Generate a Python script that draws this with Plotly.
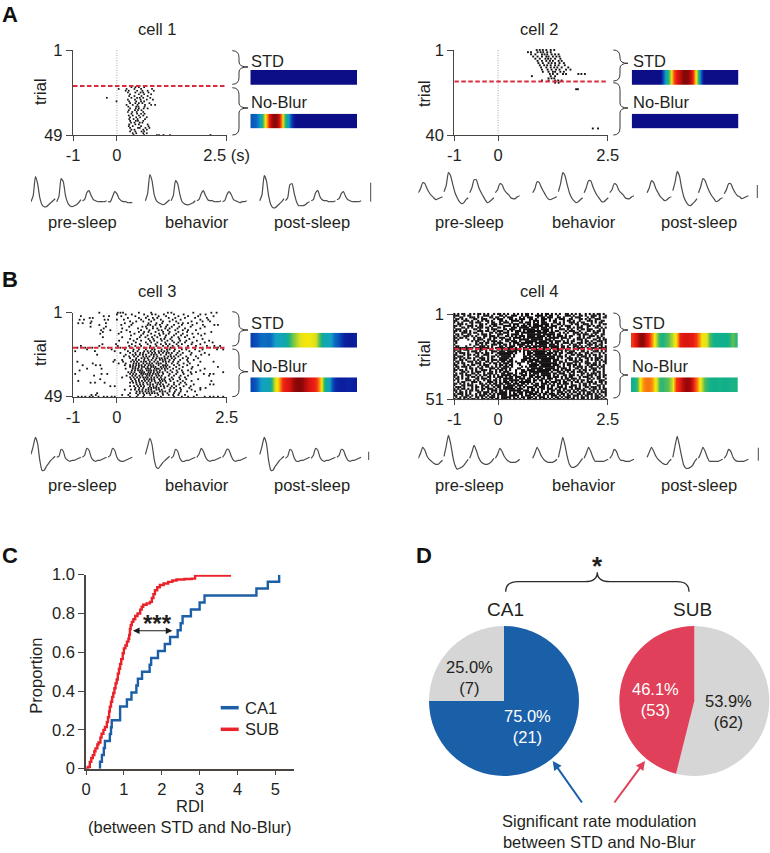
"""Rasters, rate maps, waveforms, RDI curves and pies for STD vs No-Blur."""

import plotly.graph_objects as go

FIG_W, FIG_H = 770, 853
FONT = "Liberation Sans"
TEXT_SIZE = 16.5
INK = "#231f20"
AXIS = "#4a4541"
BLUE = "#1a60a8"
RED = "#e0405a"
GRAY = "#d6d6d6"

# ---- rasters: spike times (s) per trial ------------------------------------
cell1_spikes = {
    22: [0.33, 0.42, 0.5, 0.62],
    23: [0.04, 0.22, 0.4, 0.55, 0.8],
    24: [0.2, 0.27, 0.46, 0.58, 0.7, 0.84],
    25: [0.25, 0.42, 0.54, 0.6, 0.72],
    26: [0.3, 0.5, 0.62, 0.78],
    27: [0.28, 0.4, 0.56, 0.7],
    28: [-0.23, 0.33, 0.46, 0.52, 0.6, 0.76],
    29: [0.25, 0.41, 0.54, 0.68, 0.82],
    30: [-0.01, 0.28, 0.44, 0.55, 0.62],
    31: [0.3, 0.42, 0.5, 0.58, 0.74],
    32: [0.22, 0.36, 0.47, 0.64, 0.78, 0.87],
    33: [0.26, 0.44, 0.49, 0.63],
    34: [0.3, 0.43, 0.5, 0.61, 0.7],
    35: [0.27, 0.41, 0.48, 0.56],
    36: [0.25, 0.35, 0.45, 0.6],
    37: [0.33, 0.46, 0.55, 0.63],
    38: [0.27, 0.36, 0.5, 0.6],
    39: [0.3, 0.44, 0.53, 0.68],
    40: [0.28, 0.38, 0.47, 0.64],
    41: [0.3, 0.43, 0.48, 0.6],
    42: [0.32, 0.4, 0.52, 0.58],
    43: [0.28, 0.42, 0.5, 0.7],
    44: [0.27, 0.36, 0.55, 0.72],
    45: [0.3, 0.48, 0.52, 0.65, 0.74],
    46: [0.33, 0.4, 0.6, 0.68],
    47: [0.3, 0.42, 0.56, 0.62],
    48: [0.36, 0.44, 0.6, 0.68],
    49: [0.38, 0.62, 0.91, 0.96, 1.06, 1.21, 2.13],
}
cell2_spikes = {
    1: [0.88, 0.95, 1.02, 1.1, 1.2, 1.28],
    2: [0.68, 0.75, 0.9, 0.97, 1.03, 1.12, 1.2],
    3: [0.75, 0.85, 1.0, 1.06, 1.12, 1.22, 1.3, 1.38],
    4: [0.8, 0.9, 1.0, 1.1, 1.15, 1.25, 1.33, 1.4],
    5: [0.85, 0.95, 1.08, 1.14, 1.2, 1.3, 1.42],
    6: [0.9, 1.0, 1.1, 1.18, 1.25, 1.38, 1.45],
    7: [0.92, 1.02, 1.15, 1.22, 1.3, 1.4, 1.5],
    8: [0.95, 1.05, 1.12, 1.2, 1.3, 1.38, 1.52],
    9: [0.98, 1.1, 1.2, 1.28, 1.35, 1.45, 1.6],
    10: [1.0, 1.13, 1.22, 1.32, 1.4, 1.55, 1.65],
    11: [1.02, 1.15, 1.25, 1.3, 1.42, 1.5],
    12: [1.18, 1.25, 1.35, 1.48, 1.55, 1.83, 1.9, 1.98],
    13: [0.77, 1.2, 1.3],
    14: [1.15, 1.22, 1.28],
    15: [1.0, 1.15, 1.3, 1.37, 1.45],
    16: [1.3, 1.38],
    19: [1.78, 1.82],
    37: [2.16, 2.28],
}
cell3_spikes = {
    1: [-0.4, 0.02, 0.08, 0.14, 0.5, 0.78, 1.16, 1.24, 1.74, 2.15, 2.27],
    2: [0.0, 0.2, 0.34, 0.62, 0.8, 0.88, 1.07, 1.3, 1.52, 1.9, 2.02],
    3: [-0.82, -0.3, -0.18, 0.1, 0.42, 0.7, 0.95, 1.12, 1.4, 1.62, 1.85, 2.2],
    4: [-0.62, -0.55, 0.25, 0.5, 0.66, 0.82, 0.92, 1.18, 1.33, 1.55, 1.78, 2.05],
    5: [-0.85, -0.75, -0.28, -0.2, 0.0, 0.16, 0.55, 0.73, 0.85, 1.0, 1.27, 1.45, 1.9, 2.08],
    6: [-0.58, 0.3, 0.44, 0.6, 0.78, 1.05, 1.2, 1.35, 1.7, 1.95, 2.12],
    7: [-0.88, -0.78, -0.6, -0.25, 0.18, 0.36, 0.72, 0.9, 1.03, 1.4, 1.5, 1.62, 1.82],
    8: [-0.4, 0.1, 0.33, 0.7, 0.76, 0.88, 0.98, 1.15, 1.3, 1.48, 1.72, 1.96, 2.22, 2.3],
    9: [-0.6, -0.25, 0.28, 0.58, 0.66, 0.82, 1.0, 1.12, 1.25, 1.42, 1.68, 2.0],
    10: [-0.3, 0.12, 0.48, 0.68, 0.82, 0.92, 1.1, 1.2, 1.38, 1.55, 1.9],
    11: [-0.36, -0.15, 0.22, 0.55, 0.74, 0.95, 1.02, 1.16, 1.33, 1.5, 1.62, 1.8],
    12: [-0.32, 0.1, 0.3, 0.5, 0.62, 0.72, 0.88, 1.05, 1.2, 1.4, 1.6, 2.15],
    13: [-0.38, 0.04, 0.4, 0.6, 0.78, 0.96, 1.06, 1.18, 1.35, 1.5, 1.72, 1.85, 2.0],
    14: [0.32, 0.55, 0.7, 0.86, 0.98, 1.12, 1.3, 1.46, 1.6, 1.92],
    15: [-0.32, 0.12, 0.52, 0.65, 0.8, 0.92, 1.1, 1.25, 1.4, 1.55, 1.75],
    16: [0.3, 0.46, 0.72, 0.83, 1.0, 1.08, 1.22, 1.42, 1.65, 1.95],
    17: [0.05, 0.38, 0.55, 0.75, 0.85, 1.02, 1.15, 1.26, 1.44, 1.58, 1.82, 2.1],
    18: [0.25, 0.43, 0.66, 0.78, 0.92, 1.1, 1.3, 1.4, 1.55, 1.72, 2.0, 2.18],
    19: [-0.33, -0.02, 0.34, 0.52, 0.7, 0.88, 1.0, 1.12, 1.2, 1.36, 1.48, 1.7, 1.9],
    20: [-0.82, -0.4, 0.02, 0.28, 0.42, 0.55, 0.76, 0.9, 1.05, 1.16, 1.27, 1.4, 1.62, 1.8, 2.05, 2.22, 2.35],
    21: [-0.9, -0.72, -0.56, -0.2, 0.08, 0.2, 0.32, 0.48, 0.62, 0.75, 0.84, 0.95, 1.1, 1.22, 1.3, 1.45, 1.6,
         1.78, 1.95, 2.12, 2.3],
    22: [-0.68, -0.12, 0.18, 0.38, 0.5, 0.66, 0.8, 0.86, 1.02, 1.14, 1.2, 1.32, 1.48, 1.58, 1.78, 1.95, 2.28, 2.42],
    23: [-0.95, -0.5, -0.05, 0.25, 0.47, 0.62, 0.7, 0.85, 0.95, 1.08, 1.15, 1.3, 1.42, 1.65, 1.88],
    24: [0.08, 0.3, 0.42, 0.6, 0.72, 0.8, 0.96, 1.05, 1.18, 1.25, 1.38, 1.5, 1.7, 2.0],
    25: [-0.45, 0.2, 0.36, 0.52, 0.66, 0.78, 0.9, 1.0, 1.12, 1.22, 1.35, 1.45, 1.68, 1.92, 2.1],
    26: [0.16, 0.28, 0.48, 0.6, 0.74, 0.84, 0.92, 1.08, 1.17, 1.3, 1.4, 1.58, 1.8],
    27: [0.3, 0.44, 0.56, 0.7, 0.82, 0.9, 1.02, 1.15, 1.25, 1.33, 1.5, 1.62, 1.85],
    28: [-0.05, 0.12, 0.36, 0.5, 0.62, 0.72, 0.88, 0.98, 1.1, 1.2, 1.3, 1.44, 1.6, 1.75],
    29: [-0.9, -0.08, 0.14, 0.32, 0.46, 0.55, 0.66, 0.75, 0.85, 0.93, 1.05, 1.18, 1.28, 1.4, 1.62, 1.9, 2.2],
    30: [-0.55, 0.04, 0.2, 0.38, 0.5, 0.6, 0.68, 0.8, 0.9, 1.0, 1.12, 1.25, 1.38, 1.52, 1.66],
    31: [-0.78, -0.48, -0.38, 0.18, 0.3, 0.44, 0.56, 0.64, 0.72, 0.83, 0.95, 1.05, 1.15, 1.3, 1.42, 1.6, 1.85],
    32: [0.3, 0.42, 0.5, 0.62, 0.7, 0.78, 0.88, 1.0, 1.12, 1.2, 1.35, 1.5, 1.72, 2.3],
    33: [-0.68, -0.35, 0.2, 0.36, 0.48, 0.56, 0.66, 0.76, 0.86, 0.95, 1.02, 1.15, 1.28, 1.42, 1.7, 2.0],
    34: [-0.85, 0.34, 0.48, 0.58, 0.68, 0.78, 0.9, 0.98, 1.1, 1.22, 1.36, 1.48, 1.62, 1.9],
    35: [0.26, 0.4, 0.52, 0.62, 0.72, 0.84, 0.92, 1.04, 1.15, 1.26, 1.38, 1.5, 1.68, 1.8, 2.42],
    36: [-0.95, -0.35, -0.22, 0.3, 0.44, 0.55, 0.65, 0.75, 0.82, 0.94, 1.05, 1.2, 1.35, 1.52, 1.7, 1.98, 2.12, 2.2],
    37: [-0.52, 0.22, 0.42, 0.58, 0.68, 0.8, 0.9, 1.02, 1.18, 1.3, 1.45, 1.62, 2.1],
    38: [0.12, 0.3, 0.46, 0.6, 0.7, 0.78, 0.92, 1.0, 1.1, 1.25, 1.42, 1.55],
    39: [-0.38, 0.32, 0.5, 0.62, 0.74, 0.85, 0.96, 1.08, 1.2, 1.28, 1.44, 1.58, 1.85],
    40: [-0.88, 0.35, 0.5, 0.64, 0.72, 0.86, 0.98, 1.1, 1.22, 1.38, 1.5, 1.7, 2.15],
    41: [-0.6, -0.5, -0.28, 0.3, 0.44, 0.6, 0.76, 0.88, 1.0, 1.12, 1.3, 1.45, 1.55],
    42: [0.45, 0.6, 0.7, 0.82, 0.92, 1.05, 1.18, 1.3, 1.42, 1.58, 1.75, 2.12, 2.2],
    43: [-0.15, -0.05, 0.3, 0.48, 0.62, 0.75, 0.9, 1.0, 1.15, 1.25, 1.35, 1.52, 1.68],
    44: [0.42, 0.6, 0.72, 0.84, 0.95, 1.08, 1.22, 1.3, 1.44, 1.65, 1.9, 2.02],
    45: [0.18, 0.32, 0.5, 0.66, 0.78, 0.9, 1.02, 1.2, 1.35, 1.46, 1.7, 1.9],
    46: [0.45, 0.58, 0.72, 0.85, 0.98, 1.1, 1.2, 1.32, 1.45, 1.6, 1.78],
    47: [-0.45, 0.3, 0.52, 0.68, 0.8, 0.92, 1.04, 1.15, 1.3, 1.42],
    48: [-0.58, -0.48, 0.12, 0.26, 0.48, 0.62, 0.76, 0.94, 1.05, 1.18, 1.28, 1.4, 1.55, 1.82],
    49: [-0.88, -0.8, -0.72, -0.62, -0.55, -0.42, -0.3, -0.22, -0.12, -0.05, 0.3, 0.45, 0.6, 0.88, 1.0, 1.3, 1.48,
         1.62, 1.75, 2.0, 2.12, 2.2, 2.3, 2.42],
}
# the dense core below the split line
cell3_core = {
    23: [0.37, 0.77, 1.01], 24: [0.53, 0.87, 1.13], 25: [0.43, 0.59, 0.84], 26: [0.39, 0.67, 1.23],
    27: [0.63, 0.97, 1.09], 28: [0.43, 0.79, 1.04], 29: [0.39, 0.61, 1.11], 30: [0.44, 0.74, 0.95],
    31: [0.37, 0.5, 0.77, 1.1], 32: [0.36, 0.57, 0.83, 1.06], 33: [0.42, 0.71, 0.91, 1.09],
    34: [0.41, 0.53, 0.73, 0.84], 35: [0.33, 0.57, 0.77, 0.97], 36: [0.37, 0.6, 0.7, 0.88],
    37: [0.35, 0.51, 0.74, 0.96], 38: [0.38, 0.53, 0.65, 0.85], 39: [0.41, 0.68, 0.79, 1.02],
    40: [0.43, 0.57, 0.79, 1.04], 41: [0.37, 0.52, 0.68, 0.94], 42: [0.53, 0.76, 0.98],
    43: [0.39, 0.55, 0.83, 1.07], 44: [0.51, 0.78, 0.89], 45: [0.41, 0.58, 0.72, 0.96],
    46: [0.52, 0.65, 0.79, 1.04], 47: [0.44, 0.6, 0.74, 0.86],
}
# cell 4 is too dense to list: one character per 1/22 s from -1 s, '#' marks a spike
cell4_rows = [
    "#.#.##..#.#.##.#.#..#.##.#.#..#.#.#.##.#..#.#.##.#.#.#..##.#.#.#..#.#.#.##.#",
    "###..#.##...#..###.#...##.#..###..#.##...####.#.##..#...###.#..##.#..###.#..#",
    "#..##...###.#.#...##.##..#.###...#.#.###..#.##.###..##.#...#.###...#.##..#.##",
    ".##.#.#...##..###...#.###...##.#.###..##.#..###.#..#.###..##...##.#.#..###...#",
    "##...###.#..#.#.##.#...##.#..####.#...#.###.##..#.##...#.##.#..#...###.#..##.#",
    "#.#.#...##.###...#.##..#.###.#...##.###.#.#.###...##.#.#..###.#.##...#.#.##..#",
    "..###.#..#...##.#..###.##...#.###..#.##.###.####.#..##.#...#.##..###.#...#.###",
    "##.#...###.#.##...#.##...####.#.#.###.#.#####.##.###..#.###...#.#..##.#.##...#",
    "#...##.#.#..###.##.#..##.#...###.#####.####.###.##.#.#...##.#.###..#...##.#.##",
    ".###..#...##.#...#.###...##.###..#.######.#.####.#...###.#.#..#.##.###...#.#..",
    "##.#.##.#...###.##..#.###..#.#.###.#.#######.###.#.##...#.###..#...##.#.##.#.#",
    "#...###.#.##..#...##.#.#.###...##.#######.#####.###..#.#.#..###.#.#...###..#.#",
    ".##.#..##...#.###.#...###..#.####.#..#######.######.##..#...#.##.###.#.#..##.#",
    "#.#..###.#.#...##.###.#...##.#.#.###.####.####.##.#.###.#.##...#.#..###.#.#..#",
    "##.##.#...#.##.#..#.##.###..#.####.#.########.#.#####.###.#...##.#.##...##.#.#",
    "#.#....#..#.###..##.#...#.###.#..#####.######.###.#...#..#..#.###.#...##.#.##.",
    "##.......#.##..#.#.###.#..##.###.#..######.####.##.###.#.#.##...#.##.#..###.#.",
    ".#.........#.##.##..#.###...#.###.######.#######.#.##..###.#..###.#.#.##..#.##",
    "#.......#..##.#.#..###.#.##.#.#.####.#.#.#.####.###.#.#...#.##.#...###.#.##..#",
    ".##...#...#..###.#.#...##.#.###..##.###.#######.#####.##.#..###.#.#.#..##.#.##",
    "##########.#######.#.#####.###.#.#.##.####.#.###.####.##.##.#.####.#.###.#####",
    "##.#.###...#.##.#.##..#.#.###.####.###.#######.##.#.###.##..#.#.##...#.##.#.#.",
    "#.##...#.###.#..#..###.###.#####.#.#.##.#######.#.###.#.#.###...##.#..###.#.##",
    ".#.###.#...##.#.##.#..########.#...#.###.#####.###.#.##..###.#.#..##.#...#.#.#",
    "##...#.##.#.#..###...#.######.#....#.##.#########.##.#..#..##.###.#.#.##.#..##",
    "#.###..#...##.#..#.##.#.#####.#....##.##.######.###.###.#.#...#.###.#..#.##.#.",
    "##.#.#.##.#..###.#.#...#####.#.....####.#.#########.#.#..###.#.#..##.#.###..#.",
    "#..##.#...#.#.##.#.###.####.##....###.#####.#####.###...#.##.#.##..#.#.##.#.##",
    ".##.#..###.#.#..##.#..#.##.###.#..##.###.########.##.##.#...###.#.##...#.#.###",
    "#.#.##...#.###.#..#.##.#.###.#..##...#.###.#########.#.#.###.#.#..###.##.#..#.#",
    "##...#.#.##..#.###...#.##.#.##...#....#####.#####.###..#.##.##.#...#.###.#.#.#",
    ".##.###.#...#.#.##.#.#.#.###.#....#.#.####.########.##.#..#.#.###.#.##..#.##.#",
    "#.#...#.##.#.##...###.#.###.#...##...#.######.#####.#.###.#..##.#.#..###.#.#..",
    "##.##.#..#.#..###.#..#.##.#.#..#..##.####.#######.###.#.###.#..#.##.#.##...#.#",
    "#...##.#.#.###.#..##.#.#.###...#..###.##########.#..##.#.#.##.###.#...#.##.#.#",
    ".#.##.#..##.#..#.###.#..##.###.#.##.#.#.###.#####.##.###..#.#...##.#.###.#.#..",
    "##..#.###..#.#.##.#.#.#.#####.##..###.###.#.#####.#.#..##.###.#.#..###.#.#.###",
    "#.#.#..#.##.#.#..##.#.###.#.##.###.#..##.###.#.##.###.#.#.##...#.###.#..##.#..",
    ".##.#.##...##.###.#..#.#.#####.#.###.##.#.#.##.###.#..#.##.###.#...##.#.##..#.",
    "#.#...###.#.#..#.##.##.#.##.#####.#.###.##.##.#.#..###.#.##.#.#.##.#.#...###.#",
    "..#.##...###.#...###.#.#.###.#.#.######.#...#.##.###.#.##..#.##.#..###.#.##.#.",
    "##.#.#.#.#...##.#.#.##.##.###.###.##.#.#.##.###.#.#.##.###.#...#.##.#.##..#.##",
    "#...##.###.#..##.#.#.###.#.####.###.#...###.##.#.##.#.#.#..###.#.##.#...##.#.#",
    ".###.#...#.##.#.##..#.##.#####.#.#.#.###.#.###.#.#..###.#.##.#.#..##.###.#.#..",
    "#.#.##.#.#.#..##.###.#.#.######.###..#.##.#.##.###.#.#.##..#.###.#..#.##.#.###",
    "##.#..#.##.##.#..#.###.##.#.######.###.##.#.#..#.##.##.#.##.#.#.###..##.#.#.#.",
    ".#.##.#.#...##.###.#.#.####.#.#.###.####.##.#.##.#..###.#.#.##.#.#.##.#.#.###.",
    "#.###.#.#..#.#.##.#.#.#####.#.##.##.#.####.#.##.###.#.##.#.#..##.#.###.#.#..##",
    "##..#.##.#.#.###.#.##.#.###.#####.#.###.#.##.#.#.###.#.#.##.###.#.##.#.##.#.#.",
    ".#.#.##.#..##.#.#.###.#.#####.#.#.##.###.#.###.#.#.##.#.###.#.#.##.#.#.###.#.#",
    "#.##.#.#.##.#.##.#.#.##.###.#.##.#.#.##.##.#.##.#.#.##.#.#.##.#.##.#.#.##.#.##",
]
trial_counts = [49, 40, 49, 51]
split_trials = [21.3, 15.5, 21.0, 21.6]

# ---- rate maps: 0 = lowest rate of the cell, 1 = highest ------------------
cell1_std = [0.02] * 32
cell1_noblur = [0.2, 0.22, 0.3, 0.42, 0.65, 0.85, 0.95, 0.98, 0.9, 0.72, 0.45, 0.3, 0.12,
                0.02, 0.02, 0.02, 0.02, 0.02, 0.02, 0.02, 0.02, 0.02, 0.02, 0.02, 0.02,
                0.02, 0.02, 0.02, 0.02, 0.02, 0.02, 0.02]
cell2_std = [0.02, 0.02, 0.02, 0.02, 0.02, 0.02, 0.02, 0.02, 0.02, 0.2, 0.4, 0.58, 0.78,
             0.87, 0.92, 0.98, 0.98, 0.92, 0.82, 0.58, 0.25, 0.02, 0.02, 0.02, 0.02, 0.02,
             0.02, 0.02, 0.02, 0.02, 0.02, 0.02]
cell2_noblur = [0.02] * 32
cell3_std = [0.15, 0.18, 0.22, 0.24, 0.24, 0.22, 0.26, 0.33, 0.36, 0.36, 0.38, 0.45, 0.52,
             0.56, 0.6, 0.63, 0.64, 0.64, 0.63, 0.6, 0.52, 0.42, 0.36, 0.36, 0.3, 0.22,
             0.18, 0.12, 0.07, 0.06, 0.06, 0.08]
cell3_noblur = [0.16, 0.2, 0.28, 0.34, 0.36, 0.34, 0.48, 0.62, 0.7, 0.82, 0.86, 0.88, 0.92,
                0.97, 0.98, 0.97, 0.92, 0.88, 0.86, 0.84, 0.75, 0.62, 0.4, 0.36, 0.2, 0.1,
                0.08, 0.07, 0.08, 0.09, 0.08, 0.07]
cell4_std = [0.82, 0.88, 0.96, 0.98, 0.9, 0.82, 0.72, 0.58, 0.46, 0.44, 0.48, 0.54, 0.58,
             0.66, 0.84, 0.87, 0.88, 0.87, 0.86, 0.82, 0.72, 0.63, 0.62, 0.5, 0.44, 0.43,
             0.43, 0.43, 0.43, 0.45, 0.53, 0.46]
cell4_noblur = [0.42, 0.46, 0.62, 0.72, 0.76, 0.76, 0.72, 0.62, 0.48, 0.46, 0.5, 0.54, 0.6,
                0.82, 0.86, 0.92, 0.96, 0.95, 0.88, 0.78, 0.64, 0.56, 0.47, 0.44, 0.43,
                0.43, 0.44, 0.43, 0.43, 0.44, 0.44, 0.44]
rate_scale = [
    [0, "#0d0880"], [0.1, "#0a28a8"], [0.2, "#0a58bc"], [0.33, "#12a0c8"], [0.43, "#10b08c"],
    [0.52, "#60c050"], [0.6, "#d8e020"], [0.65, "#f8e808"], [0.75, "#f88010"],
    [0.85, "#ee1c14"], [0.95, "#a00808"], [1, "#700808"],
]

# ---- mean waveforms: four channels per epoch, 12 samples per channel ------
cell1_pre = [[0, 6, 25, 18, 4, -3, -5, -5, -3, -1, 1, 3], [0, 5, 23, 20, 6, -1, -4, -5, -4, -3, -1, 2],
             [1, 2, 9, 11, 6, 2, 1, 0, 0, 0, 0, 1], [0, 0, 5, 10, 8, 3, 1, 0, 0, -1, -1, -1]]
cell1_beh = [[1, 8, 27, 21, 7, 1, -1, -2, -3, -2, 0, 2], [1, 6, 21, 18, 7, 0, -2, -3, -3, -2, -1, 1],
             [1, 2, 8, 11, 6, 2, 1, 1, 0, 0, 0, 1], [0, 1, 7, 10, 7, 2, 1, 0, -1, 0, 0, 1]]
cell1_post = [[1, 7, 26, 21, 6, -3, -6, -6, -4, -2, 0, 3], [1, 4, 17, 18, 8, 0, -4, -4, -4, -3, -1, 0],
              [1, 2, 9, 11, 5, 2, 1, 1, 0, 0, 0, 1], [2, 3, 8, 10, 5, 2, 1, 0, 0, 0, 0, 1]]
cell2_pre = [[0, 4, 10, 9, 4, 0, -3, -5, -7, -6, -5, -4], [1, 7, 20, 17, 8, 0, -5, -9, -11, -10, -7, -5],
             [0, 5, 13, 13, 6, 1, -3, -7, -10, -9, -7, -5], [0, 3, 9, 8, 3, 0, -2, -5, -6, -6, -4, -3]]
cell2_beh = [[0, 4, 11, 10, 5, 1, -3, -6, -7, -6, -5, -4], [1, 9, 20, 17, 8, 0, -5, -8, -10, -9, -7, -5],
             [0, 5, 12, 12, 6, 1, -3, -6, -9, -9, -7, -5], [0, 3, 9, 8, 3, 0, -2, -5, -6, -6, -4, -3]]
cell2_post = [[0, 5, 12, 10, 4, 0, -4, -6, -8, -7, -5, -4], [2, 10, 21, 17, 5, -4, -9, -12, -13, -11, -9, -6],
              [0, 6, 14, 12, 6, 1, -3, -6, -9, -8, -6, -5], [-1, 3, 9, 9, 4, 0, -3, -4, -6, -5, -4, -3]]
cell3_pre = [[0, 8, 17, 11, -6, -16, -16, -12, -9, -6, -4, -2], [-3, -2, 5, 3, -4, -6, -7, -6, -6, -5, -4, -3],
             [-3, -1, 6, 4, -3, -6, -7, -6, -6, -5, -4, -3], [-3, -1, 6, 4, -3, -6, -7, -7, -6, -5, -4, -3]]
cell3_beh = [[0, 8, 16, 10, -5, -13, -14, -11, -8, -6, -4, -2], [-4, -2, 5, 3, -4, -7, -7, -6, -6, -5, -4, -3],
             [-3, 0, 6, 3, -3, -6, -7, -6, -6, -5, -4, -3], [-3, 0, 5, 4, -2, -6, -7, -6, -6, -5, -4, -3]]
cell3_post = [[0, 8, 17, 11, -6, -16, -16, -12, -9, -6, -4, -2], [-4, -2, 5, 3, -4, -7, -7, -6, -6, -5, -4, -3],
              [-4, -1, 6, 4, -3, -6, -7, -6, -6, -5, -4, -3], [-3, -1, 5, 4, -2, -6, -7, -6, -6, -5, -4, -3]]
cell4_pre = [[0, 5, 11, 8, 2, -1, -3, -5, -6, -6, -4, -2], [2, 12, 23, 15, 2, -7, -11, -10, -9, -7, -4, -1],
             [0, 6, 13, 8, 1, -3, -5, -6, -6, -5, -3, 0], [0, 4, 10, 7, 2, -1, -3, -4, -4, -4, -3, -1]]
cell4_beh = [[0, 5, 11, 7, 2, -1, -3, -4, -4, -4, -3, -1], [1, 11, 21, 13, 2, -6, -9, -9, -8, -6, -3, 0],
             [0, 5, 11, 7, 1, -3, -3, -3, -3, -3, -2, -1], [0, 3, 9, 7, 1, -2, -2, -3, -3, -3, -2, -1]]
cell4_post = [[1, 6, 11, 7, 2, -1, -3, -5, -6, -6, -3, -1], [1, 12, 22, 13, 2, -7, -10, -10, -9, -7, -3, 0],
              [0, 5, 11, 7, 1, -3, -3, -3, -3, -3, -2, -1], [0, 3, 9, 7, 1, -2, -3, -3, -3, -3, -2, -1]]

# ---- panel C: cumulative RDI ----------------------------------------------
ca1_x = [0.37, 0.42, 0.47, 0.5, 0.63, 0.66, 0.68, 0.9, 1.08, 1.2, 1.33, 1.37, 1.48, 1.68, 1.72,
         1.9, 2.08, 2.22, 2.42, 2.5, 2.55, 2.77, 3.0, 3.13, 4.5, 4.8, 5.1, 5.1]
ca1_y = [0.036, 0.071, 0.107, 0.143, 0.179, 0.214, 0.25, 0.321, 0.357, 0.393, 0.429, 0.464, 0.5,
         0.536, 0.571, 0.607, 0.643, 0.679, 0.714, 0.75, 0.786, 0.821, 0.857, 0.893, 0.929, 0.964,
         1.0, 1.0]
sub_x = [0.0, 0.05, 0.1, 0.14, 0.18, 0.22, 0.25, 0.3, 0.33, 0.38, 0.41, 0.46, 0.5, 0.55, 0.58, 0.61,
         0.63, 0.66, 0.69, 0.72, 0.75, 0.78, 0.81, 0.84, 0.87, 0.9, 0.93, 0.97, 1.0, 1.04, 1.08, 1.12,
         1.14, 1.16, 1.18, 1.21, 1.25, 1.3, 1.36, 1.43, 1.47, 1.51, 1.6, 1.69, 1.74, 1.78, 1.82, 1.88,
         1.95, 2.05, 2.17, 2.28, 2.39, 2.6, 2.79, 2.88, 3.83]
sub_y = [0.0, 0.009, 0.035, 0.055, 0.07, 0.09, 0.105, 0.125, 0.135, 0.16, 0.18, 0.2, 0.215, 0.24,
         0.265, 0.295, 0.32, 0.345, 0.37, 0.39, 0.415, 0.44, 0.46, 0.49, 0.515, 0.54, 0.565, 0.595,
         0.62, 0.635, 0.655, 0.67, 0.69, 0.72, 0.74, 0.757, 0.77, 0.787, 0.8, 0.82, 0.835, 0.845, 0.852,
         0.86, 0.88, 0.9, 0.92, 0.935, 0.947, 0.955, 0.963, 0.97, 0.975, 0.978, 0.98, 0.995, 0.995]

# ---- panel D: cell counts ---------------------------------------------------
ca1_counts = [21, 7]
sub_counts = [62, 53]


def fx(px):
    return px / FIG_W


def fy(py):
    return 1 - py / FIG_H


def add_axes(layout, n, x0, x1, y0, y1, xaxis, yaxis):
    """Place axis pair n on the page, box given in page pixels."""
    layout[f"xaxis{n}"] = dict(domain=[fx(x0), fx(x1)], anchor=f"y{n}", **xaxis)
    layout[f"yaxis{n}"] = dict(domain=[fy(y1), fy(y0)], anchor=f"x{n}", **yaxis)


def label(x, y, text, size=TEXT_SIZE, color=INK, anchor="center", angle=0, bold=False):
    if bold:
        text = f"<b>{text}</b>"
    return dict(x=fx(x), y=fy(y), xref="paper", yref="paper", text=text, showarrow=False,
                xanchor=anchor, yanchor="middle", textangle=angle,
                font=dict(family=FONT, size=size, color=color))


def brace_path(x0, xs, xt, y0, yt, y1):
    """Right-pointing curly brace, page pixels."""
    pts = [(x0, y0), (xs, y0), (xs, y0 + 7), (xs, yt - 5), (xs, yt), (xt, yt), (xs, yt),
           (xs, yt + 5), (xs, y1 - 7), (xs, y1), (x0, y1)]
    p = [(fx(a), fy(b)) for a, b in pts]
    return (f"M{p[0][0]},{p[0][1]} Q{p[1][0]},{p[1][1]} {p[2][0]},{p[2][1]} "
            f"L{p[3][0]},{p[3][1]} Q{p[4][0]},{p[4][1]} {p[5][0]},{p[5][1]} "
            f"Q{p[6][0]},{p[6][1]} {p[7][0]},{p[7][1]} L{p[8][0]},{p[8][1]} "
            f"Q{p[9][0]},{p[9][1]} {p[10][0]},{p[10][1]}")


def spikes_from_rows(rows):
    times, trials = [], []
    for trial, row in enumerate(rows, start=1):
        for col, ch in enumerate(row[:77]):
            if ch == "#":
                times.append(-1 + col * 3.5 / 77)
                trials.append(trial)
    return times, trials


def spikes_from_dict(*spike_dicts):
    times, trials = [], []
    for spikes in spike_dicts:
        for trial, values in spikes.items():
            times.extend(values)
            trials.extend([trial] * len(values))
    return times, trials


rasters = [
    spikes_from_dict(cell1_spikes),
    spikes_from_dict(cell2_spikes),
    spikes_from_dict(cell3_spikes, cell3_core),
    spikes_from_rows(cell4_rows),
]
dot_sizes = [1.7, 1.9, 1.8, 2.1]
rate_maps = [(cell1_std, cell1_noblur), (cell2_std, cell2_noblur),
             (cell3_std, cell3_noblur), (cell4_std, cell4_noblur)]
waves = [(cell1_pre, cell1_beh, cell1_post), (cell2_pre, cell2_beh, cell2_post),
         (cell3_pre, cell3_beh, cell3_post), (cell4_pre, cell4_beh, cell4_post)]

# page pixel boxes per cell
raster_box = [(73, 226.7, 50, 135), (454.3, 607.7, 50, 135),
              (73, 226.7, 312.7, 396.7), (454.3, 607.7, 314, 399)]
heat_x = [(250.3, 357), (631.7, 738.3), (250.3, 357), (631, 737.7)]
heat_y = [((70, 84.7), (113.7, 128.3)), ((70, 84.7), (113.7, 128.3)),
          ((332.7, 347.7), (377.3, 392)), ((332.7, 347.7), (377.3, 392))]
wave_left = [31, 418.3, 31, 418.3]
wave_base = [201.7, 192.7, 454.3, 458.3]
title_pos = [(157, 29), (539.3, 29), (157, 291), (539.3, 291)]
trial_pos = [(40, 92), (424, 93), (40, 353), (424, 353)]
std_y = [61, 61, 322.7, 322.7]
noblur_y = [102.3, 102.3, 366, 366]
epoch_y = [221.7, 221.7, 485, 485]
epoch_x = [(82.7, 197.3, 311.7), (469.3, 584, 699), (82.7, 197.3, 311.7), (469.3, 584, 699)]
scale_bars = [(370.7, 182.7, 201.7), (757.3, 185, 198), (368.7, 451.7, 460), (758.3, 447.7, 460.7)]
braces = [
    ((232.3, 239, 248, 50.7, 67, 84.3), (232.3, 239, 248, 87.7, 108, 135)),
    ((613.3, 620, 628, 50, 63.3, 81), (613.3, 620, 628, 82.7, 108, 135)),
    ((232.3, 239, 248, 311.7, 330, 346), (232.3, 239, 248, 349, 371.7, 396.7)),
    ((613.3, 620, 628, 313, 330, 347.3), (613.3, 620, 628, 350, 375, 398)),
]

fig = go.Figure()
layout = dict(
    template="none",
    width=FIG_W, height=FIG_H, margin=dict(l=0, r=0, t=0, b=0, pad=0, autoexpand=False), autosize=False,
    paper_bgcolor="white", plot_bgcolor="white", showlegend=False,
    font=dict(family=FONT, size=TEXT_SIZE, color=INK),
)
annotations = []
shapes = []
tick_font = dict(family=FONT, size=TEXT_SIZE, color=INK)

axis_n = 1
for i in range(4):
    n_trials = trial_counts[i]
    # raster
    add_axes(
        layout, axis_n, *raster_box[i],
        xaxis=dict(range=[-1, 2.5], tickvals=[-1, 0, 2.5],
                   ticktext=["-1", "0", "2.5 (s)" if i == 0 else "2.5"],
                   showgrid=False, zeroline=False, showline=True, linecolor=AXIS, linewidth=1.3,
                   ticks="outside", ticklen=5, tickwidth=1.2, tickcolor=AXIS, tickfont=tick_font),
        yaxis=dict(range=[n_trials, 1], tickvals=[1, n_trials], showgrid=False, zeroline=False,
                   showline=True, linecolor=AXIS, linewidth=1.3, ticks="outside", ticklen=6,
                   tickwidth=1.2, tickcolor=AXIS, tickfont=tick_font),
    )
    fig.add_trace(go.Scatter(x=[0, 0], y=[1, n_trials], mode="lines", hoverinfo="skip",
                             line=dict(color="#a8a8a8", width=1, dash="1px,1.5px"),
                             xaxis=f"x{axis_n}", yaxis=f"y{axis_n}"))
    fig.add_trace(go.Scatter(x=rasters[i][0], y=rasters[i][1], mode="markers", cliponaxis=False,
                             marker=dict(symbol="square", size=dot_sizes[i], color="#161213", line=dict(width=0)),
                             xaxis=f"x{axis_n}", yaxis=f"y{axis_n}"))
    fig.add_trace(go.Scatter(x=[-1, 2.5], y=[split_trials[i]] * 2, mode="lines",
                             line=dict(color="#dc2c3c", width=2, dash="4.5px,2.5px"),
                             xaxis=f"x{axis_n}", yaxis=f"y{axis_n}"))
    axis_n += 1

    # rate maps
    for row_y, z in zip(heat_y[i], rate_maps[i]):
        add_axes(layout, axis_n, heat_x[i][0], heat_x[i][1], row_y[0], row_y[1],
                 xaxis=dict(visible=False), yaxis=dict(visible=False))
        fig.add_trace(go.Heatmap(z=[z, z], zmin=0, zmax=1, zsmooth="best", colorscale=rate_scale,
                                 showscale=False, xaxis=f"x{axis_n}", yaxis=f"y{axis_n}"))
        axis_n += 1

    # waveforms, 1 y unit = 1 page pixel
    base = wave_base[i]
    add_axes(layout, axis_n, wave_left[i], wave_left[i] + 350, base - 40, base + 25,
             xaxis=dict(visible=False, range=[0, 350]),
             yaxis=dict(visible=False, range=[-25, 40]))
    for e, epoch in enumerate(waves[i]):
        for c, channel in enumerate(epoch):
            xs = [e * 114.4 + c * 25.7 + s * 2.2 for s in range(len(channel))]
            fig.add_trace(go.Scatter(x=xs, y=channel, mode="lines",
                                     line=dict(color="#4f494a", width=1.2, shape="spline", smoothing=0.5),
                                     xaxis=f"x{axis_n}", yaxis=f"y{axis_n}"))
    axis_n += 1

    # text and decorations around the cell
    annotations.append(label(*title_pos[i], f"cell {i + 1}"))
    annotations.append(label(*trial_pos[i], "trial", angle=-90))
    annotations.append(label(heat_x[i][0] - 1, std_y[i], "STD", anchor="left"))
    annotations.append(label(heat_x[i][0] - 1, noblur_y[i], "No-Blur", anchor="left"))
    for ex, name in zip(epoch_x[i], ["pre-sleep", "behavior", "post-sleep"]):
        annotations.append(label(ex, epoch_y[i], name))
    bx, by0, by1 = scale_bars[i]
    shapes.append(dict(type="line", xref="paper", yref="paper", x0=fx(bx), x1=fx(bx), y0=fy(by0), y1=fy(by1),
                       line=dict(color="#4b4546", width=1)))
    for b in braces[i]:
        shapes.append(dict(type="path", xref="paper", yref="paper", path=brace_path(*b),
                           line=dict(color="#3a3536", width=1)))

# panel C
add_axes(
    layout, axis_n, 86, 294.3, 574.7, 768.7,
    xaxis=dict(range=[0, 5.5], tickvals=[0, 1, 2, 3, 4, 5], showgrid=False, zeroline=False, showline=True,
               linecolor=AXIS, linewidth=1.5, ticks="outside", ticklen=5, tickwidth=1.3, tickcolor=AXIS,
               tickfont=tick_font),
    yaxis=dict(range=[0, 1], tickvals=[0, 0.2, 0.4, 0.6, 0.8, 1.0], ticktext=["0", "0.2", "0.4", "0.6", "0.8", "1.0"],
               showgrid=False, zeroline=False, showline=True, linecolor=AXIS, linewidth=1.5, ticks="outside",
               ticklen=6, tickwidth=1.3, tickcolor=AXIS, tickfont=tick_font),
)
fig.add_trace(go.Scatter(x=[0.37] + ca1_x, y=[0] + ca1_y, mode="lines", name="CA1", cliponaxis=False,
                         line=dict(color="#1c5fa6", width=2.4, shape="hv"),
                         xaxis=f"x{axis_n}", yaxis=f"y{axis_n}"))
fig.add_trace(go.Scatter(x=sub_x, y=sub_y, mode="lines", name="SUB", cliponaxis=False,
                         line=dict(color="#ea2229", width=2.4, shape="hv"),
                         xaxis=f"x{axis_n}", yaxis=f"y{axis_n}"))
annotations.append(dict(x=1.24, y=0.711, ax=2.32, ay=0.711, xref=f"x{axis_n}", yref=f"y{axis_n}",
                        axref=f"x{axis_n}", ayref=f"y{axis_n}", text="", showarrow=True, arrowhead=2,
                        arrowside="end+start", arrowwidth=1.2, arrowsize=1.1, arrowcolor="#1c1a1a"))
annotations.append(label(157, 623, "***", size=24, bold=True))
annotations.append(label(36, 675.7, "Proportion", angle=-90))
annotations.append(label(190, 806, "RDI"))
annotations.append(label(190, 826.7, "(between STD and No-Blur)"))
for y, name, color in [(707.7, "CA1", "#1c5fa6"), (729.3, "SUB", "#ea2229")]:
    shapes.append(dict(type="line", xref="paper", yref="paper", x0=fx(220.7), x1=fx(238.7), y0=fy(y), y1=fy(y),
                       line=dict(color=color, width=3.5)))
    annotations.append(label(243, y, name, anchor="left"))

# panel D
fig.add_trace(go.Pie(values=ca1_counts, marker=dict(colors=[BLUE, GRAY]), sort=False, rotation=0,
                     direction="clockwise", textinfo="none", hoverinfo="skip",
                     domain=dict(x=[fx(429), fx(579)], y=[fy(776), fy(626)])))
fig.add_trace(go.Pie(values=sub_counts, marker=dict(colors=[GRAY, RED]), sort=False, rotation=0,
                     direction="clockwise", textinfo="none", hoverinfo="skip",
                     domain=dict(x=[fx(619.3), fx(769.3)], y=[fy(776), fy(626)])))
annotations.extend([
    label(469, 677, "25.0%<br>(7)"),
    label(527.7, 726.5, "75.0%<br>(21)", color="white"),
    label(655.7, 699.5, "46.1%<br>(53)", color="white"),
    label(728.3, 711, "53.9%<br>(62)"),
    label(505, 609, "CA1", size=19),
    label(692.7, 609, "SUB", size=19),
    label(597, 566, "*", size=26, bold=True),
    label(599.3, 831.5, "Significant rate modulation<br>between STD and No-Blur"),
])
for tip, tail, color in [((552.7, 761), (583, 804), BLUE), ((645, 761), (613.3, 804), RED)]:
    annotations.append(dict(x=fx(tip[0]), y=fy(tip[1]), xref="paper", yref="paper", text="", showarrow=True,
                            axref="pixel", ayref="pixel", ax=tail[0] - tip[0], ay=tail[1] - tip[1],
                            arrowhead=2, arrowwidth=2, arrowsize=0.9, arrowcolor=color))
shapes.append(dict(type="path", xref="paper", yref="paper", line=dict(color="#2e2a2a", width=1.3),
                   path=(f"M{fx(505.7)},{fy(591.7)} Q{fx(505.7)},{fy(581.7)} {fx(518)},{fy(581.7)} "
                         f"L{fx(585)},{fy(581.7)} Q{fx(597.3)},{fy(581.7)} {fx(597.3)},{fy(572.3)} "
                         f"Q{fx(597.3)},{fy(581.7)} {fx(610)},{fy(581.7)} L{fx(677)},{fy(581.7)} "
                         f"Q{fx(689)},{fy(581.7)} {fx(689)},{fy(591.7)}")))

# panel letters
for x, y, letter in [(0, 15, "A"), (0, 280, "B"), (0, 555, "C"), (414, 555, "D")]:
    annotations.append(label(x, y, letter, size=22, color="#111111", anchor="left", bold=True))

layout["annotations"] = annotations
layout["shapes"] = shapes
fig.update_layout(**layout)

fig.write_html("out.html", config={"displayModeBar": False}, post_script="document.body.style.margin='0';")
